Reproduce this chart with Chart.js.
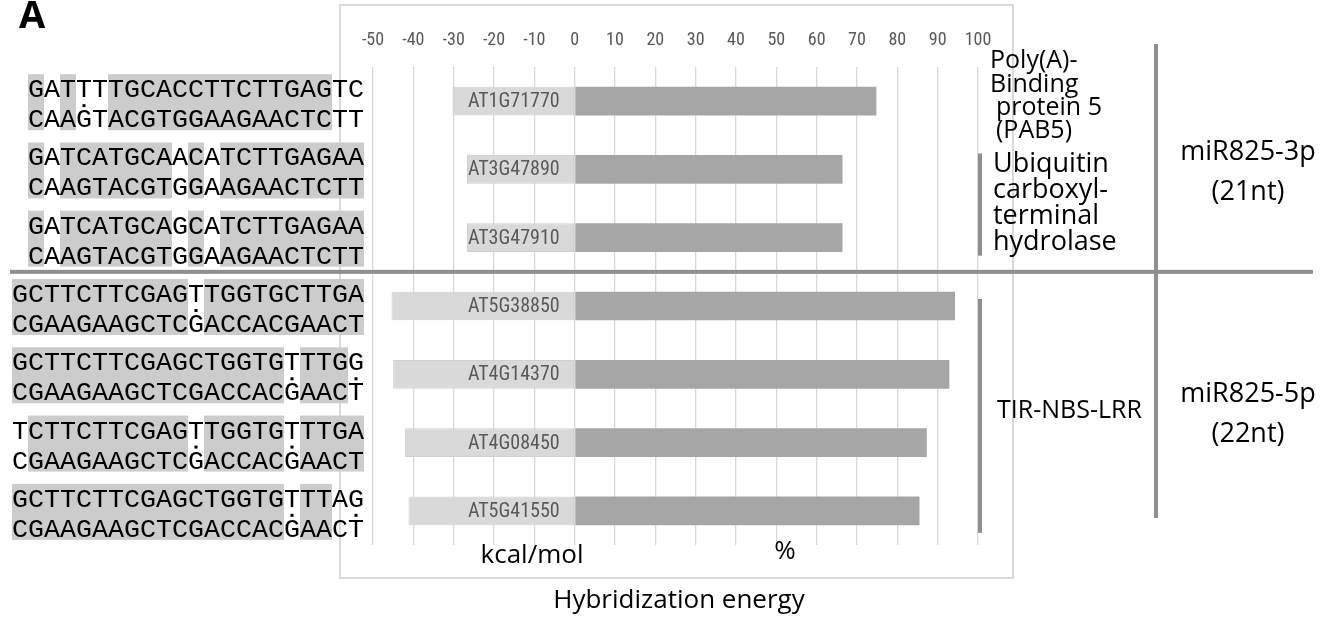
<!DOCTYPE html>
<html>
<head>
<meta charset="utf-8">
<script src="https://cdn.jsdelivr.net/npm/chart.js@4.4.1/dist/chart.umd.min.js"></script>
<style>
  html, body { margin: 0; padding: 0; background: #fff; }
  #chart { display: block; }
</style>
</head>
<body>
<canvas id="chart" width="1322" height="625"></canvas>
<script>
// gene targets, top to bottom
const genes = ['AT1G71770', 'AT3G47890', 'AT3G47910', 'AT5G38850', 'AT4G14370', 'AT4G08450', 'AT5G41550'];
// hybridization energy (kcal/mol), drawn to the left of 0
const energy = [-30.3, -26.7, -26.7, -45.4, -45.0, -42.1, -41.2];
// complementarity (%), drawn to the right of 0
const percent = [74.8, 66.4, 66.4, 94.3, 92.9, 87.3, 85.5];
// target site (upper row) and miRNA (lower row) for each gene
const targetSeqs = [
  'GATTTTGCACCTTCTTGAGTC',
  'GATCATGCAACATCTTGAGAA',
  'GATCATGCAGCATCTTGAGAA',
  'GCTTCTTCGAGTTGGTGCTTGA',
  'GCTTCTTCGAGCTGGTGTTTGG',
  'TCTTCTTCGAGTTGGTGTTTGA',
  'GCTTCTTCGAGCTGGTGTTTAG'
];
const mirnaSeqs = [
  'CAAGTACGTGGAAGAACTCTT',
  'CAAGTACGTGGAAGAACTCTT',
  'CAAGTACGTGGAAGAACTCTT',
  'CGAAGAAGCTCGACCACGAACT',
  'CGAAGAAGCTCGACCACGAACT',
  'CGAAGAAGCTCGACCACGAACT',
  'CGAAGAAGCTCGACCACGAACT'
];
const xMin = -50, xMax = 100, xStep = 10;

const narrow = '"Liberation Sans Narrow", "Roboto Condensed", "Liberation Sans", sans-serif';
const sans = '"Open Sans", "Liberation Sans", sans-serif';

const comp = { G: 'C', C: 'G', A: 'T', T: 'A' };
function isWobble(a, b) {
  return (a === 'G' && b === 'T') || (a === 'T' && b === 'G');
}

function lines(ctx, arr, x, y0, dy, font, align) {
  ctx.font = font;
  ctx.textAlign = align || 'left';
  ctx.textBaseline = 'alphabetic';
  arr.forEach((t, i) => ctx.fillText(t, x, y0 + i * dy));
}

const decor = {
  id: 'decor',
  beforeDraw(chart) {
    const ctx = chart.ctx;
    ctx.save();
    ctx.fillStyle = '#fff';
    ctx.fillRect(0, 0, chart.width, chart.height);
    // chart frame
    ctx.strokeStyle = '#d9d9d9';
    ctx.lineWidth = 2;
    ctx.strokeRect(340, 5, 673, 573);
    ctx.restore();
  },
  afterDatasetsDraw(chart) {
    const ctx = chart.ctx;
    const x = chart.scales.x, y = chart.scales.y;
    ctx.save();
    ctx.fillStyle = '#595959';
    ctx.font = '20px ' + narrow;
    ctx.textAlign = 'right';
    ctx.textBaseline = 'middle';
    genes.forEach((g, i) => {
      ctx.fillText(g, x.getPixelForValue(0) - 15, y.getPixelForValue(i) + 1);
    });
    ctx.restore();
  },
  afterDraw(chart) {
    const ctx = chart.ctx;
    const y = chart.scales.y;
    ctx.save();

    // panel letter
    ctx.fillStyle = '#000';
    ctx.font = 'bold 38px ' + sans;
    ctx.textAlign = 'left';
    ctx.textBaseline = 'alphabetic';
    ctx.fillText('A', 19, 28);

    // sequence alignments
    const cw = 16;
    ctx.font = '26.7px "Liberation Mono", "DejaVu Sans Mono", monospace';
    ctx.textBaseline = 'alphabetic';
    ctx.textAlign = 'left';
    targetSeqs.forEach((top, i) => {
      const bot = mirnaSeqs[i];
      const c = y.getPixelForValue(i);
      const x0 = 364 - top.length * cw;
      ctx.fillStyle = '#cccccc';
      for (let k = 0; k < top.length; k++) {
        if (comp[top[k]] === bot[k]) ctx.fillRect(x0 + k * cw, c - 27, cw, 56);
      }
      ctx.fillStyle = '#000';
      for (let k = 0; k < top.length; k++) {
        ctx.fillText(top[k], x0 + k * cw, c - 4);
        ctx.fillText(bot[k], x0 + k * cw, c + 26);
        if (isWobble(top[k], bot[k])) ctx.fillRect(x0 + k * cw + 6.5, c + 3, 3, 3);
      }
    });

    // separators and brackets
    ctx.fillStyle = '#8f8f8f';
    const sepY = (y.getPixelForValue(2) + y.getPixelForValue(3)) / 2;
    ctx.fillRect(10, sepY - 2, 1303, 4);
    ctx.fillRect(1154, 44, 4, 474);
    ctx.fillRect(978, y.getPixelForValue(1) - 16, 4, y.getPixelForValue(2) - y.getPixelForValue(1) + 34);
    ctx.fillRect(978, y.getPixelForValue(3) - 7, 4, y.getPixelForValue(6) - y.getPixelForValue(3) + 29);

    // gene family annotations
    ctx.fillStyle = '#000';
    lines(ctx, ['Poly(A)-', 'Binding'], 990, 68, 23.5, '25px ' + sans);
    lines(ctx, ['protein 5', '(PAB5)'], 996, 115, 23, '25px ' + sans);
    lines(ctx, ['Ubiquitin', 'carboxyl-', 'terminal', 'hydrolase'], 993, 172, 26, '27px ' + sans);
    lines(ctx, ['TIR-NBS-LRR'], 997, 418, 0, '25px ' + sans);
    lines(ctx, ['miR825-3p', '(21nt)'], 1248, 160, 40, '27px ' + sans, 'center');
    lines(ctx, ['miR825-5p', '(22nt)'], 1248, 402, 40, '27px ' + sans, 'center');

    // axis captions
    ctx.textBaseline = 'middle';
    ctx.textAlign = 'center';
    ctx.font = '26px ' + sans;
    ctx.fillText('kcal/mol', 532, 556);
    ctx.fillText('%', 785, 552);
    ctx.fillText('Hybridization energy', 679, 601);
    ctx.restore();
  }
};

new Chart(document.getElementById('chart'), {
  type: 'bar',
  data: {
    labels: genes,
    datasets: [
      {
        label: 'kcal/mol',
        data: energy,
        backgroundColor: '#d9d9d9',
        borderColor: '#d0d0d0',
        borderWidth: 1,
        borderSkipped: false
      },
      {
        label: '%',
        data: percent,
        backgroundColor: '#a6a6a6'
      }
    ]
  },
  options: {
    indexAxis: 'y',
    responsive: false,
    animation: false,
    devicePixelRatio: 1,
    layout: { padding: { left: 373, right: 344, top: 13.4, bottom: 80 } },
    datasets: { bar: { categoryPercentage: 1, barPercentage: 0.42 } },
    plugins: { legend: { display: false }, tooltip: { enabled: false } },
    scales: {
      x: {
        position: 'top',
        stacked: true,
        min: xMin,
        max: xMax,
        ticks: { stepSize: xStep, padding: 16, color: '#595959', font: { family: narrow, size: 18 } },
        grid: { color: '#d9d9d9', lineWidth: 1.3, drawTicks: false },
        border: { display: false }
      },
      y: { stacked: true, display: false }
    }
  },
  plugins: [decor]
});
</script>
</body>
</html>
